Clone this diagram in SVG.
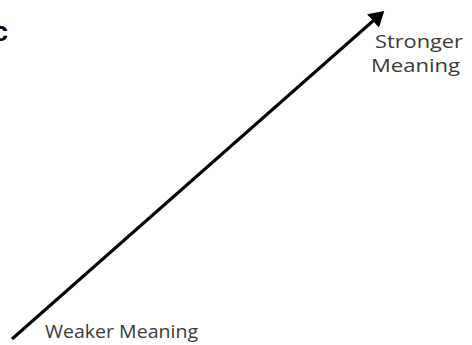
<svg xmlns="http://www.w3.org/2000/svg" width="472" height="345" viewBox="0 0 472 345">
<style>
.lbl{font-family:"Open Sans","Liberation Sans",sans-serif;font-size:18px;fill:#3a3a3a}
</style>
<defs>
<marker id="ah" markerWidth="6" markerHeight="6" refX="4" refY="3" orient="auto" markerUnits="strokeWidth">
<path d="M0,0 L5,3 L0,6 Z" fill="#000"/>
</marker>
</defs>
<rect width="472" height="345" fill="#fff"/>
<text x="-7" y="41" font-family="Liberation Sans, sans-serif" font-weight="bold" font-size="27" fill="#000">c</text>
<g id="connectors">
<line x1="12" y1="339" x2="382" y2="13" stroke="#000" stroke-width="3" marker-end="url(#ah)"/>
</g>
<g id="strong">
<text class="lbl" x="375" y="48" textLength="88" lengthAdjust="spacingAndGlyphs">Stronger</text>
<text class="lbl" x="371" y="72" textLength="89" lengthAdjust="spacingAndGlyphs">Meaning</text>
</g>
<g id="weak">
<text class="lbl" x="45" y="338" textLength="153" lengthAdjust="spacingAndGlyphs">Weaker Meaning</text>
</g>
</svg>
